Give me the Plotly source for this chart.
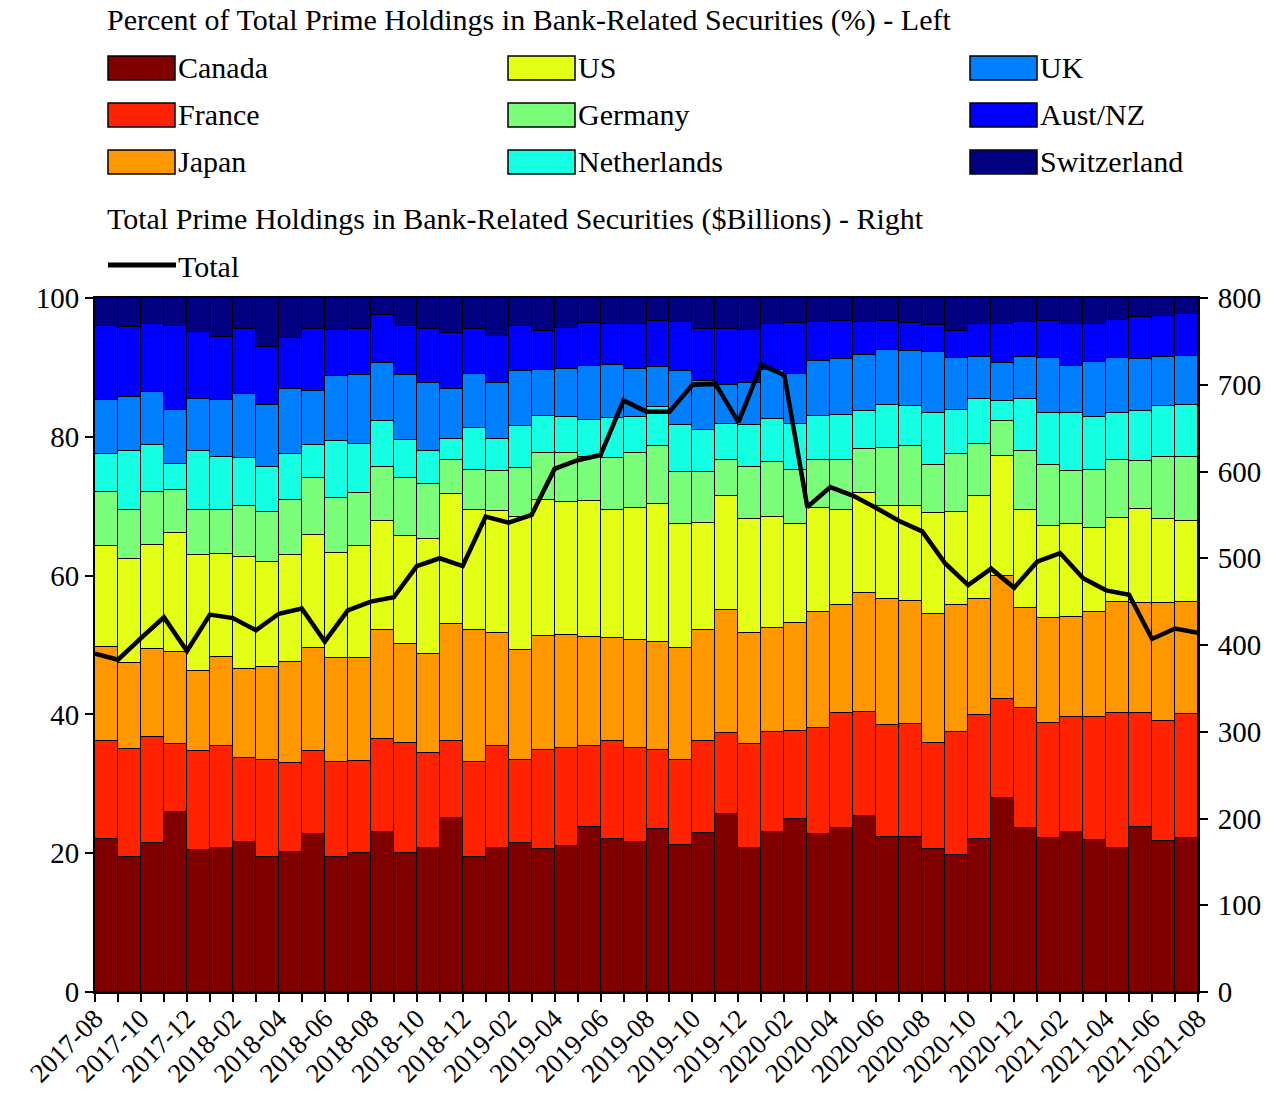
import plotly.graph_objects as go
import pandas as pd

# ---------------- data ----------------
# tick labels (month starts); bars span one month each, line has a point at every tick
months = pd.date_range("2017-08-01", "2021-08-01", freq="MS").strftime("%Y-%m").tolist()
bar_months = months[:-1]

canada = [22.1, 19.4, 21.5, 25.9, 20.5, 20.7, 21.6, 19.5, 20.2, 22.7, 19.5, 20.1,
          23.1, 20.1, 20.7, 25.1, 19.4, 20.7, 21.5, 20.6, 21.0, 23.8, 22.1, 21.6,
          23.5, 21.2, 22.9, 25.6, 20.7, 23.1, 24.9, 22.7, 23.7, 25.3, 22.4, 22.4,
          20.6, 19.8, 22.0, 27.9, 23.6, 22.2, 23.1, 21.9, 20.8, 23.8, 21.8, 22.2]
france = [14.1, 15.6, 15.3, 9.9, 14.2, 14.7, 12.1, 14.0, 12.8, 12.0, 13.7, 13.2,
          13.4, 15.8, 13.7, 11.0, 13.8, 14.7, 11.9, 14.3, 14.2, 11.7, 14.0, 13.6,
          11.4, 12.2, 13.3, 11.7, 15.0, 14.3, 12.7, 15.3, 16.5, 15.1, 16.1, 16.2,
          15.3, 17.6, 17.9, 14.3, 17.3, 16.6, 16.5, 17.7, 19.4, 16.4, 17.2, 17.9]
japan = [13.5, 12.4, 12.6, 13.2, 11.6, 12.8, 12.8, 13.3, 14.6, 14.8, 14.9, 14.8,
         15.7, 14.2, 14.3, 16.9, 19.0, 16.4, 15.9, 16.4, 16.2, 15.6, 14.9, 15.5,
         15.6, 16.2, 16.0, 17.7, 16.0, 15.0, 15.5, 16.7, 15.6, 17.1, 18.1, 17.8,
         18.5, 18.3, 16.8, 17.7, 14.4, 15.1, 14.5, 15.2, 16.0, 15.8, 17.0, 16.1]
us = [14.5, 15.0, 15.0, 17.2, 16.6, 14.9, 16.2, 15.2, 15.4, 16.4, 15.1, 16.1,
      15.7, 15.6, 16.6, 18.8, 17.3, 17.5, 19.2, 19.6, 19.2, 19.7, 18.5, 19.0,
      19.8, 17.8, 15.4, 16.4, 16.4, 16.0, 14.3, 15.0, 13.7, 14.4, 13.4, 13.6,
      14.6, 13.5, 14.7, 17.4, 14.2, 13.3, 13.3, 12.0, 12.1, 13.6, 12.1, 11.7]
germany = [7.8, 7.1, 7.7, 6.2, 6.6, 6.4, 7.3, 7.2, 7.9, 8.1, 8.0, 7.7,
           7.8, 8.3, 7.9, 4.8, 5.7, 5.8, 7.0, 6.7, 7.0, 6.3, 7.5, 7.9,
           8.4, 7.6, 7.4, 5.3, 7.6, 7.9, 7.8, 7.0, 7.2, 6.3, 8.4, 8.7,
           7.0, 8.3, 7.5, 5.0, 8.4, 8.8, 7.7, 8.4, 8.4, 6.9, 9.0, 9.2]
netherlands = [5.5, 8.4, 6.7, 3.7, 8.4, 7.6, 7.0, 6.5, 6.6, 4.8, 8.2, 7.1,
               6.6, 5.5, 4.8, 3.1, 6.1, 4.6, 6.0, 5.4, 5.3, 5.3, 5.7, 5.2,
               5.6, 6.7, 6.0, 5.2, 6.0, 6.3, 6.6, 6.3, 6.5, 5.5, 6.2, 5.7,
               7.5, 6.3, 6.5, 2.8, 7.6, 7.4, 8.4, 7.6, 6.7, 7.2, 7.3, 7.5]
uk = [7.8, 7.8, 7.6, 7.8, 7.5, 8.2, 9.1, 8.9, 9.4, 7.8, 9.4, 9.9,
      8.4, 9.4, 9.8, 7.2, 7.7, 8.1, 8.0, 6.6, 6.9, 7.8, 7.6, 6.9,
      5.7, 7.8, 7.1, 5.5, 6.1, 7.0, 7.2, 7.9, 8.0, 8.1, 7.9, 8.0,
      8.7, 7.5, 6.1, 5.6, 6.0, 8.0, 6.7, 8.0, 7.9, 7.5, 7.1, 7.0]
aust_nz = [10.7, 10.1, 9.9, 12.0, 9.7, 9.1, 9.5, 8.4, 7.3, 8.9, 6.6, 6.7,
           6.9, 7.0, 7.8, 8.1, 6.5, 6.7, 6.5, 5.7, 5.9, 6.2, 5.9, 6.6,
           6.7, 7.1, 7.4, 8.2, 7.6, 6.6, 7.4, 5.6, 5.5, 4.8, 4.2, 4.0,
           3.9, 4.0, 4.7, 5.5, 5.1, 5.3, 6.1, 5.5, 5.5, 6.0, 5.9, 6.1]
switzerland = [4.0, 4.2, 3.7, 4.1, 4.9, 5.6, 4.4, 7.0, 5.8, 4.5, 4.6, 4.4,
               2.4, 4.1, 4.4, 5.0, 4.5, 5.5, 4.0, 4.7, 4.3, 3.6, 3.8, 3.7,
               3.3, 3.4, 4.5, 4.4, 4.6, 3.8, 3.6, 3.5, 3.3, 3.4, 3.3, 3.6,
               3.9, 4.7, 3.8, 3.8, 3.4, 3.3, 3.7, 3.7, 3.2, 2.8, 2.6, 2.3]

# $ Billions, one value per tick (2017-08 ... 2021-08)
total = [390, 383, 408, 432, 393, 435, 431, 417, 436, 442, 404, 440,
         450, 455, 491, 500, 491, 548, 541, 550, 603, 613, 619, 682,
         669, 669, 700, 701, 657, 723, 711, 559, 582, 572, 558, 543,
         531, 494, 469, 488, 466, 496, 506, 477, 463, 458, 407, 419, 414]

countries = ["Canada", "France", "Japan", "US", "Germany",
             "Netherlands", "UK", "Aust/NZ", "Switzerland"]
series = [canada, france, japan, us, germany, netherlands, uk, aust_nz, switzerland]
colors = ["#800000", "#FF2200", "#FF9700", "#E2FF15", "#7BFF7B",
          "#15FFE2", "#0080FF", "#0000FF", "#000080"]

FONT = "Liberation Serif"
FS = 30      # legend / title text
TFS = 29     # y tick labels
XFS = 27     # x tick labels

# ---------------- figure ----------------
fig = go.Figure()
bar_pos = list(range(len(bar_months)))
for name, vals, col in zip(countries, series, colors):
    fig.add_trace(go.Bar(
        x=bar_pos, y=vals, name=name, width=1, offset=0,
        marker=dict(color=col, line=dict(color="black", width=1.5)),
        customdata=bar_months, hovertemplate="%{customdata}: %{y}%<extra>" + name + "</extra>",
        showlegend=False))

fig.add_trace(go.Scatter(
    x=list(range(len(months))), y=total, mode="lines", name="Total", yaxis="y2",
    line=dict(color="black", width=4.5), customdata=months,
    hovertemplate="%{customdata}: $%{y}B<extra>Total</extra>", showlegend=False))

# ---------------- manual legend (large swatches like the original) ----------------
L, R, T, B = 95, 1198, 298, 992
W, H = R - L, B - T


def px(x):
    return (x - L) / W


def py(y):
    return (B - y) / H


shapes = []
annotations = []
col_x = [108, 508, 970]
row_y = [68, 115, 162]
for i, (name, col) in enumerate(zip(countries, colors)):
    cx = col_x[i // 3]
    cy = row_y[i % 3]
    shapes.append(dict(type="rect", xref="paper", yref="paper",
                       x0=px(cx), x1=px(cx + 67), y0=py(cy + 12), y1=py(cy - 12),
                       fillcolor=col, line=dict(color="black", width=1.5)))
    annotations.append(dict(xref="paper", yref="paper", x=px(cx + 68), y=py(cy),
                            text=name, showarrow=False, xanchor="left", yanchor="middle",
                            font=dict(family=FONT, size=FS, color="black")))

annotations.append(dict(xref="paper", yref="paper", x=px(105), y=py(20),
                        text="Percent of Total Prime Holdings in Bank-Related Securities (%) - Left",
                        showarrow=False, xanchor="left", yanchor="middle",
                        font=dict(family=FONT, size=FS, color="black")))
annotations.append(dict(xref="paper", yref="paper", x=px(105), y=py(219),
                        text="Total Prime Holdings in Bank-Related Securities ($Billions) - Right",
                        showarrow=False, xanchor="left", yanchor="middle",
                        font=dict(family=FONT, size=FS, color="black")))
shapes.append(dict(type="line", xref="paper", yref="paper",
                   x0=px(108), x1=px(176), y0=py(265), y1=py(265),
                   line=dict(color="black", width=5)))
annotations.append(dict(xref="paper", yref="paper", x=px(176), y=py(266),
                        text="Total", showarrow=False, xanchor="left", yanchor="middle",
                        font=dict(family=FONT, size=FS, color="black")))

ticktext = [m if k % 2 == 0 else "" for k, m in enumerate(months)]

fig.update_layout(
    width=1276, height=1100,
    margin=dict(l=L, r=1276 - R, t=T, b=1100 - B, pad=0),
    paper_bgcolor="white", plot_bgcolor="white",
    barmode="stack", bargap=0,
    font=dict(family=FONT, size=TFS, color="black"),
    showlegend=False,
    shapes=shapes, annotations=annotations,
    xaxis=dict(range=[0, len(months) - 1], tickmode="array",
               tickvals=list(range(len(months))), ticktext=ticktext,
               tickangle=-45, ticks="outside", ticklen=8, tickwidth=1.5, tickcolor="black",
               ticklabelstandoff=-10,
               showline=True, linecolor="black", linewidth=2, mirror=True,
               showgrid=False, zeroline=False, automargin=False,
               tickfont=dict(family=FONT, size=XFS)),
    yaxis=dict(range=[0, 100], dtick=20, ticks="outside", ticklen=8, tickwidth=1.5,
               tickcolor="black", showline=True, linecolor="black", linewidth=2,
               showgrid=False, zeroline=False, automargin=False,
               tickfont=dict(family=FONT, size=TFS)),
    yaxis2=dict(range=[0, 800], dtick=100, overlaying="y", side="right",
                ticks="outside", ticklen=8, tickwidth=1.5, tickcolor="black",
                ticklabelstandoff=4,
                showline=True, linecolor="black", linewidth=2,
                showgrid=False, zeroline=False, automargin=False,
                tickfont=dict(family=FONT, size=TFS)),
)

fig.write_html("out.html", config={"displayModeBar": False},
               post_script="document.body.style.margin='0';")
